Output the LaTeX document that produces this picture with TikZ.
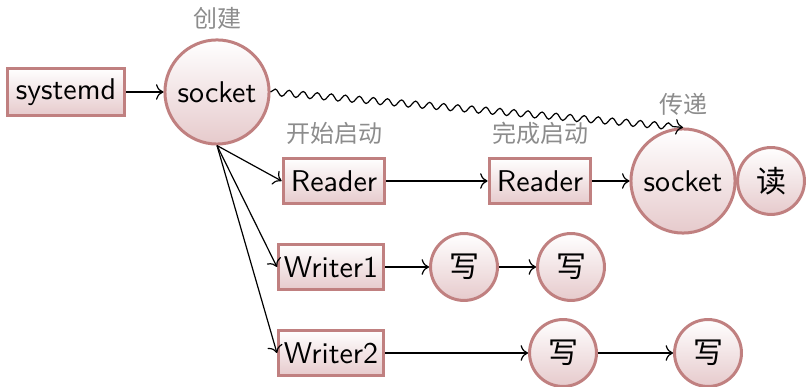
\documentclass[tikz,border=0pt]{standalone}
\usepackage{fontspec}
\newfontfamily\cjk{Noto Sans CJK SC}
\usepackage{xcolor}
\usepackage{tikz}
\usetikzlibrary{arrows.meta,decorations.pathmorphing}
\definecolor{rim}{RGB}{192,128,128}
\definecolor{fade}{RGB}{230,202,204}
\definecolor{note}{RGB}{140,140,140}

\begin{document}
\begin{tikzpicture}[x=0.3333pt, y=-0.3333pt, font=\sffamily,
    box/.style={draw=rim, line width=1pt, top color=white, bottom color=fade,
                minimum height=15.3pt, inner xsep=2.6pt},
    ball/.style={circle, draw=rim, line width=1pt, top color=white, bottom color=fade,
                 minimum size=34.7pt, inner sep=0pt},
    dot/.style={ball, minimum size=22.3pt},
    label/.style={text=note, font=\cjk\fontsize{8}{9}\selectfont},
    >=To]
    \useasboundingbox (0,0) rectangle (806,387);

    \node[box, inner xsep=2.8pt] (sysd) at (66,92) {systemd};
    \node[ball] (sock) at (217,92) {socket};
    \node[label] (mk) at (217,18) {创建};

    \node[box] (rd1) at (334,181) {Reader};
    \node[label] (start) at (334,133) {开始启动};
    \node[box] (rd2) at (540,181) {Reader};
    \node[label] (done) at (540,133) {完成启动};
    \node[ball] (sock2) at (683,181) {socket};
    \node[label] (pass) at (683,104) {传递};
    \node[dot, font=\cjk] (rd) at (771,181) {读};

    \node[box, inner xsep=1.8pt] (wr1) at (331,267) {Writer1};
    \node[dot, font=\cjk] (w11) at (464,267) {写};
    \node[dot, font=\cjk] (w12) at (571,267) {写};

    \node[box, inner xsep=1.8pt] (wr2) at (331,353) {Writer2};
    \node[dot, font=\cjk] (w21) at (563,353) {写};
    \node[dot, font=\cjk] (w22) at (708,353) {写};

    \draw[->] (sysd) -- (sock);
    \draw[->, decorate, decoration={snake, amplitude=1.1pt, segment length=4.7pt, post length=3pt}]
        (sock.east) -- (sock2.north);
    \draw[->] (sock.south) -- (rd1.west);
    \draw[->] (sock.south) -- (wr1.west);
    \draw[->] (sock.south) -- (wr2.west);
    \draw[->] (rd1) -- (rd2);
    \draw[->] (rd2) -- (sock2);
    \draw[->] (wr1) -- (w11);
    \draw[->] (w11) -- (w12);
    \draw[->] (wr2) -- (w21);
    \draw[->] (w21) -- (w22);
\end{tikzpicture}
\end{document}
